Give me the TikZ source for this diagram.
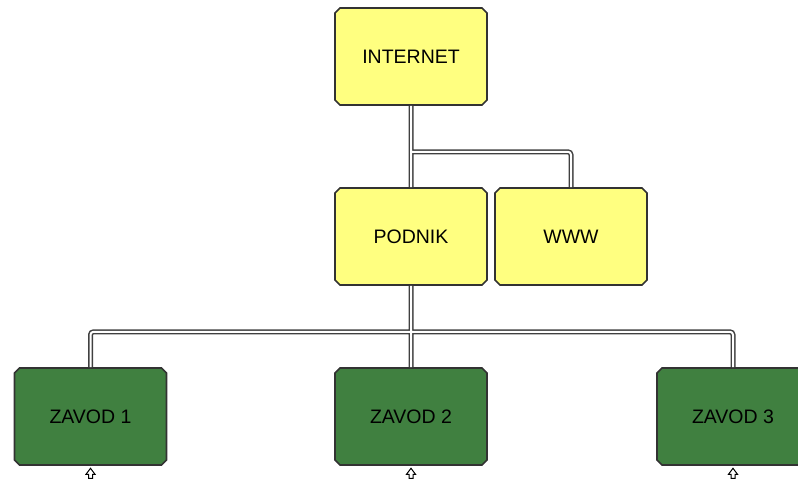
\documentclass[tikz,border=0pt]{standalone}
\usepackage{fontspec}
\setmainfont{Liberation Sans}
\usetikzlibrary{shapes.misc}
\definecolor{webyellow}{RGB}{255,255,128}
\definecolor{plantgreen}{RGB}{64,128,64}
\tikzset{
  unitbox/.style={chamfered rectangle, chamfered rectangle xsep=2.5pt,
    chamfered rectangle ysep=2.5pt, minimum width=152pt, minimum height=97pt,
    inner sep=0pt, draw=black!80, line width=1.6pt,
    font=\fontsize{19.5}{22}\selectfont},
  webbox/.style={unitbox, fill=webyellow},
  plantbox/.style={unitbox, fill=plantgreen},
  link/.style={draw=black!75, line width=1.5pt, double=white,
    double distance=2pt, rounded corners=3pt},
  expander/.style={draw=black, line width=1pt, fill=white, line join=miter}
}

\begin{document}
\begin{tikzpicture}[x=1pt, y=-1pt]
\clip (0,0) rectangle (798,481);
% top level
\node [webbox] (inet) at (411,56.5) {INTERNET};
\node [webbox] (pod) at (411,236.5) {PODNIK};
\node [webbox] (www) at (571,236.5) {WWW};
% plants
\node [plantbox] (z1) at (90.5,416.5) {ZAVOD 1};
\node [plantbox] (z2) at (411,416.5) {ZAVOD 2};
\node [plantbox] (z3) at (733,416.5) {ZAVOD 3};
% connectors
\draw [link] (inet.south) -- (pod.north)
  (inet.south) ++(0,46) -| (www.north);
\draw [link] (pod.south) -- (z2.north)
  (pod.south) ++(0,46) -| (z1.north)
  (pod.south) ++(0,46) -| (z3.north);
% expand markers
\foreach \z in {z1,z2,z3}
  \draw [expander] ([yshift=-2.5pt]\z.south) -- ++(4.5,6) -- ++(-2.5,0) -- ++(0,4)
    -- ++(-4,0) -- ++(0,-4) -- ++(-2.5,0) -- cycle;
\end{tikzpicture}
\end{document}
